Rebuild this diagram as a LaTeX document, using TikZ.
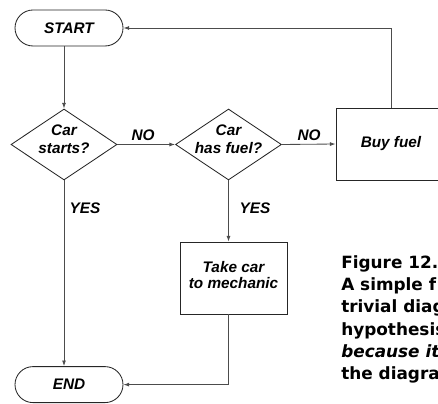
\documentclass[tikz,border=0pt]{standalone}
\usepackage{fontspec}
\setmainfont{Liberation Sans}
\newfontfamily\capfont{DejaVu Sans}
\usetikzlibrary{shapes.geometric,arrows.meta}

\begin{document}
\begin{tikzpicture}[
  flow/.style={draw=black!70, line width=0.6pt, -{Latex[length=4pt,width=2.8pt]}},
  boxtext/.style={font=\fontsize{10.9}{12.8}\selectfont\bfseries\itshape, align=center},
  terminal/.style={boxtext, draw=black!85, line width=0.6pt, rounded corners=0.45cm,
    minimum width=2.7cm, minimum height=0.9cm, inner sep=0pt},
  decision/.style={draw=black!85, line width=0.6pt, diamond,
    minimum width=2.65cm, minimum height=1.775cm, inner sep=0pt},
  process/.style={boxtext, draw=black!85, line width=0.6pt,
    minimum width=2.7cm, minimum height=1.8cm, inner sep=0pt},
  answer/.style={boxtext, inner sep=0pt},
]
  \useasboundingbox (0,0) rectangle (10.95,10.075);
  \clip (0,0) rectangle (10.95,10.075);

  % Baslangic ve bitis
  \node[terminal] (start) at (1.725,9.375) {START};
  \node[terminal] (end) at (1.725,0.46) {END};

  % Sorular
  \node[decision, label={[boxtext, yshift=0.13cm]center:{Car\\starts?}}] (starts) at (1.6,6.4625) {};
  \node[decision, label={[boxtext, yshift=0.13cm]center:{Car\\has fuel?}}] (fuel) at (5.7125,6.4625) {};

  % Islemler
  \node[process, minimum width=2.75cm] (buy) at (9.775,6.475) {Buy fuel};
  \node[process, minimum width=2.675cm] (mechanic) at (5.8375,3.125)
    {\raisebox{0.15cm}{\shortstack{Take car\\to mechanic}}};

  % Baglantilar
  \draw[flow] (starts |- start.south) -- (starts.north);
  \draw[flow] (starts.east) -- (fuel.west);
  \draw[flow] (fuel.east) -- (buy.west);
  \draw[flow] (buy.north) |- (start.east);
  \draw[flow] (starts.south) -- (starts |- end.north);
  \draw[flow] (fuel.south) -- (fuel |- mechanic.north);
  \draw[flow] (fuel |- mechanic.south) |- (end.east);

  % Cevaplar
  \node[answer] (no1) at (3.575,6.7) {NO};
  \node[answer] (no2) at (7.725,6.7) {NO};
  \node[answer] (yes1) at (2.125,4.875) {YES};
  \node[answer] (yes2) at (6.375,4.875) {YES};

  % Sekil yazisi
  \node[anchor=north west, inner sep=0pt, align=left,
    font=\capfont\fontsize{12}{15.9}\selectfont\bfseries] (caption) at (8.525,3.7)
    {Figure 12.\\A simple f\\trivial diag\\hypothesis\\\textit{because it}\\the diagra};
\end{tikzpicture}
\end{document}
